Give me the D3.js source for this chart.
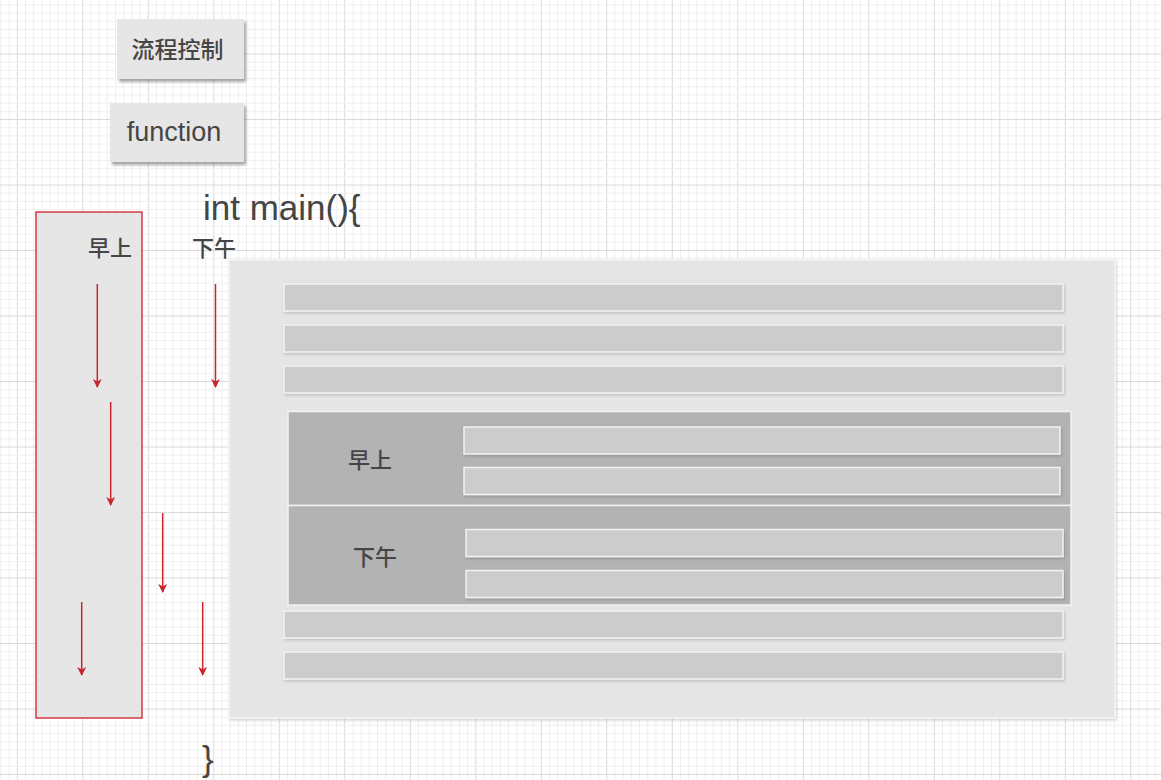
<!DOCTYPE html>
<html>
<head>
<meta charset="utf-8">
<script src="https://cdn.jsdelivr.net/npm/d3@7"></script>
<style>
  html, body { margin: 0; padding: 0; background: #fff; }
  svg { display: block; }
  text { font-family: "Liberation Sans", Arial, "Noto Sans CJK SC", sans-serif; fill: #454545; }
  .cjk { font-family: "Noto Sans CJK SC", "Liberation Sans", sans-serif; font-weight: 500; }
</style>
</head>
<body>
<div id="chart"></div>
<script>
// textos del diagrama
var buttonLabels = ["流程控制", "function"]
var codeOpen = "int main(){"
var codeClose = "}"
var periodLabels = ["早上", "下午"]
var rowsBefore = ["r1", "r2", "r3"]
var rowsPerPeriod = [["a1", "a2"], ["b1", "b2"]]
var rowsAfter = ["r4", "r5"]
// flechas: columna y tramo de tiempo
var arrowSteps = [
  {lane: "m", step: 0}, {lane: "a", step: 0},
  {lane: "m2", step: 1},
  {lane: "a2", step: 2},
  {lane: "m3", step: 3}, {lane: "a3", step: 3}
]

var W = 1161, H = 780
var svg = d3.select("#chart").append("svg").attr("width", W).attr("height", H)

var defs = svg.append("defs")
var sh = defs.append("filter").attr("id", "sombra").attr("x", "-10%").attr("y", "-20%").attr("width", "130%").attr("height", "160%")
sh.append("feDropShadow").attr("dx", 2).attr("dy", 3).attr("stdDeviation", 1.6).attr("flood-color", "#000").attr("flood-opacity", 0.35)
var shs = defs.append("filter").attr("id", "sombraSuave").attr("x", "-5%").attr("y", "-20%").attr("width", "110%").attr("height", "160%")
shs.append("feDropShadow").attr("dx", 1).attr("dy", 1.5).attr("stdDeviation", 1.5).attr("flood-color", "#000").attr("flood-opacity", 0.18)
defs.append("marker").attr("id", "punta").attr("viewBox", "0 0 10 10")
  .attr("refX", 9).attr("refY", 5).attr("markerWidth", 9).attr("markerHeight", 9)
  .attr("markerUnits", "userSpaceOnUse").attr("orient", "auto")
  .append("path").attr("d", "M0,0 L10,5 L0,10 L3,5 z").attr("fill", "#c9252d")

// cuadricula de fondo
var major = 65.5, minor = major / 8
var gx = d3.range(17.3 - 2 * major, W, minor), gy = d3.range(54 - major, H, minor)
var grid = svg.append("g")
grid.selectAll("line.v").data(gx).enter().append("line")
  .attr("x1", d => d).attr("x2", d => d).attr("y1", 0).attr("y2", H)
  .attr("stroke", (d, i) => i % 8 === 0 ? "#dadada" : "#efefef").attr("stroke-width", 1)
grid.selectAll("line.h").data(gy).enter().append("line")
  .attr("y1", d => d).attr("y2", d => d).attr("x1", 0).attr("x2", W)
  .attr("stroke", (d, i) => i % 8 === 0 ? "#dadada" : "#efefef").attr("stroke-width", 1)

// botones de arriba
var botones = [
  {t: buttonLabels[0], x: 117, y: 19, w: 127, h: 60, fs: 23, cjk: true},
  {t: buttonLabels[1], x: 110, y: 103, w: 134, h: 59, fs: 27, cjk: false}
]
var gb = svg.selectAll("g.boton").data(botones).enter().append("g").attr("class", "boton")
gb.append("rect").attr("x", d => d.x).attr("y", d => d.y).attr("width", d => d.w).attr("height", d => d.h)
  .attr("fill", "#e6e6e6").attr("filter", "url(#sombra)")
gb.append("text").attr("class", d => d.cjk ? "cjk" : null)
  .attr("x", d => d.x + d.w / 2 - 3).attr("y", d => d.y + d.h / 2 - 1)
  .attr("text-anchor", "middle").attr("dominant-baseline", "central")
  .style("font-size", d => d.fs + "px").text(d => d.t)

// codigo
svg.append("text").attr("x", 203).attr("y", 220).style("font-size", "35px").text(codeOpen)
svg.append("text").attr("x", 202).attr("y", 771).style("font-size", "35px").text(codeClose)

// caja roja de la izquierda
svg.append("rect").attr("x", 36).attr("y", 212).attr("width", 106).attr("height", 506)
  .attr("fill", "#e6e6e6").attr("stroke", "#d23a42").attr("stroke-width", 1.5)

svg.selectAll("text.periodo").data(periodLabels).enter().append("text")
  .attr("class", "cjk").attr("x", (d, i) => i === 0 ? 110 : 214).attr("y", 246)
  .attr("text-anchor", "middle").attr("dominant-baseline", "central")
  .style("font-size", "22px").text(d => d)

// flechas
var laneX = {m: 97.3, a: 215.5, m2: 110.7, a2: 162.7, m3: 81.7, a3: 202.7}
var stepY = d3.scaleOrdinal().domain([0, 1, 2, 3]).range([[284, 387], [402, 505], [513, 592], [602, 675]])
svg.selectAll("line.flecha").data(arrowSteps).enter().append("line")
  .attr("x1", d => laneX[d.lane]).attr("x2", d => laneX[d.lane])
  .attr("y1", d => stepY(d.step)[0]).attr("y2", d => stepY(d.step)[1])
  .attr("stroke", "#c9252d").attr("stroke-width", 1.5).attr("marker-end", "url(#punta)")

// panel grande
svg.append("rect").attr("x", 229).attr("y", 260).attr("width", 886).attr("height", 458)
  .attr("fill", "#e5e5e5").attr("stroke", "#f4f4f4").attr("stroke-width", 1.5).attr("filter", "url(#sombraSuave)")

var rowH = 27
var filaY = d3.scalePoint().domain(rowsBefore).range([284, 366])
function fila(g, x, y, w) {
  g.append("rect").attr("x", x).attr("y", y).attr("width", w).attr("height", rowH)
    .attr("fill", "#cccccc").attr("stroke", "#f2f2f2").attr("stroke-width", 1.5).attr("filter", "url(#sombraSuave)")
}
rowsBefore.forEach(r => fila(svg, 284, filaY(r), 779))

// bloque de periodos
var bloqueY = d3.scaleOrdinal().domain(periodLabels).range([[411.5, 505.5], [505.5, 605]])
var gp = svg.append("g")
periodLabels.forEach(function (p, i) {
  var yy = bloqueY(p)
  gp.append("rect").attr("x", 288).attr("y", yy[0]).attr("width", 783).attr("height", yy[1] - yy[0])
    .attr("fill", "#b3b3b3").attr("stroke", "#f2f2f2").attr("stroke-width", 1.5)
  gp.append("text").attr("class", "cjk").attr("x", i === 0 ? 370 : 375).attr("y", (yy[0] + yy[1]) / 2 - (i === 0 ? 1 : 0))
    .attr("text-anchor", "middle").attr("dominant-baseline", "central").style("font-size", "22px").text(p)
  var sub = d3.scalePoint().domain(rowsPerPeriod[i]).range(i === 0 ? [427, 467.5] : [529.5, 570.5])
  rowsPerPeriod[i].forEach(r => fila(gp, i === 0 ? 464 : 466, sub(r), i === 0 ? 596 : 597))
})

var filaY2 = d3.scalePoint().domain(rowsAfter).range([611, 652])
rowsAfter.forEach(r => fila(svg, 284, filaY2(r), 779))
</script>
</body>
</html>
